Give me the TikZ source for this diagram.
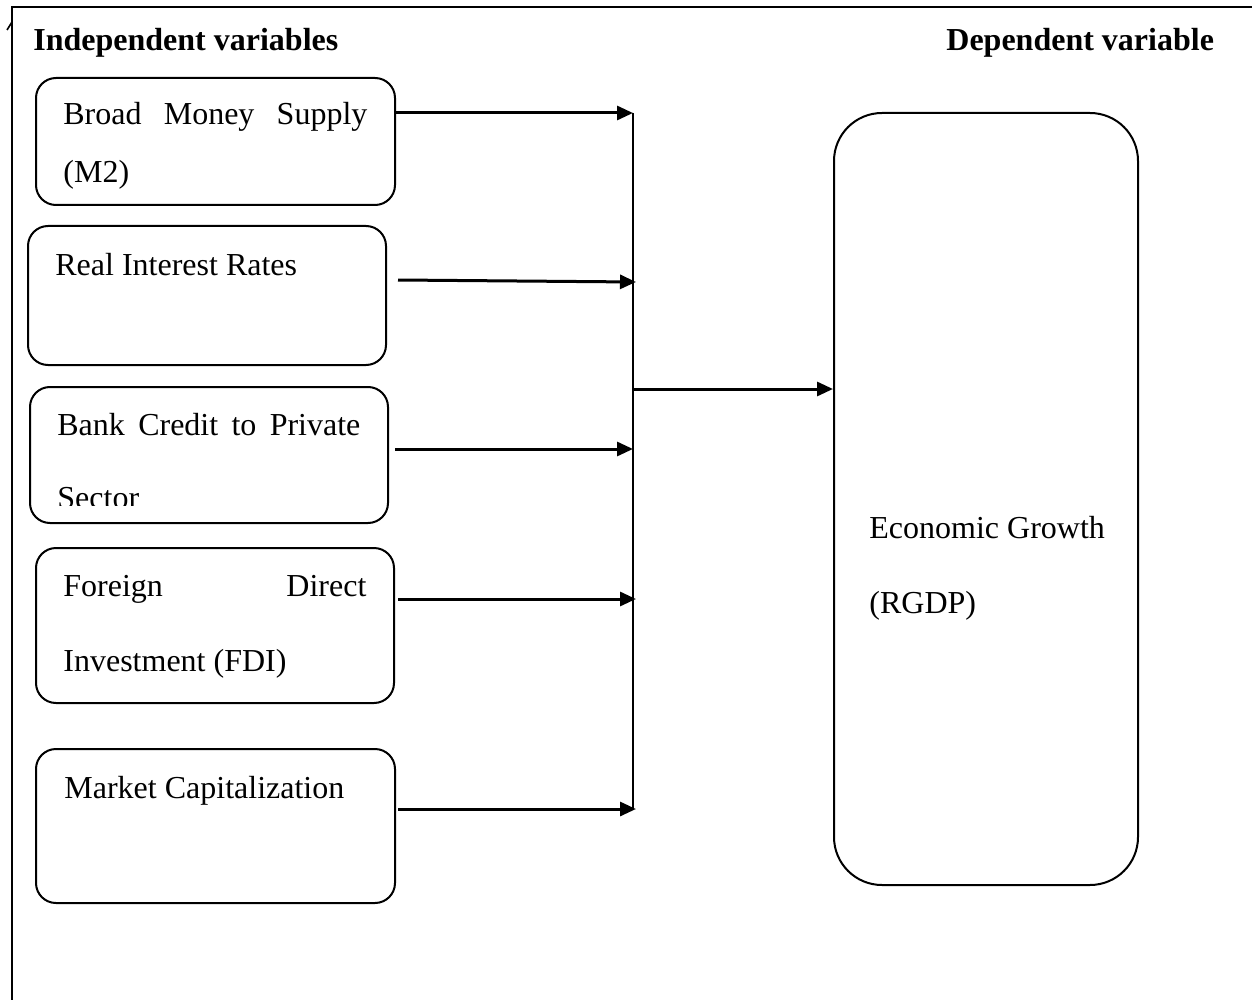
\documentclass[tikz,border=0pt]{standalone}
\usepackage{fontspec}
\setmainfont{Liberation Serif}
\usetikzlibrary{arrows.meta}
\tikzset{
  varbox/.style={draw, line width=1pt, rounded corners=10pt, inner sep=0pt},
  bigbox/.style={draw, line width=1pt, rounded corners=24pt, inner sep=0pt},
  txt/.style={anchor=base west, inner sep=0pt, font=\fontsize{16}{19}\selectfont},
  head/.style={anchor=base west, inner sep=0pt, font=\fontsize{16}{19}\selectfont\bfseries},
  feed/.style={line width=1.5pt, -{Triangle[length=8pt,width=7pt]}},
  bus/.style={line width=0.8pt},
  frame/.style={line width=0.8pt}
}
\begin{document}
\begin{tikzpicture}[x=0.5pt,y=-0.5pt]
\useasboundingbox (0,0) rectangle (1252,1000);

% outer frame (top and left only)
\coordinate (fl) at (12,1000);
\coordinate (fc) at (12,7);
\coordinate (fr) at (1252,7);
\draw[frame] (fl) -- (fc) -- (fr);
\coordinate (ta) at (7,30);
\coordinate (tb) at (12,22);
\draw[line width=0.8pt] (ta) -- (tb);

% headings
\node[head] (h1) at (33,51) {Independent variables};
\node[head] (h2) at (946,51) {Dependent variable};

% variable boxes
\node[varbox, minimum width=179.5pt, minimum height=63.5pt] (b1) at (215.5,141.5) {};
\node[varbox, minimum width=179pt, minimum height=69.5pt] (b2) at (207,295.5) {};
\node[varbox, minimum width=179pt, minimum height=68pt] (b3) at (209,455) {};
\node[varbox, minimum width=179pt, minimum height=77.5pt] (b4) at (215,625.5) {};
\node[varbox, minimum width=179.5pt, minimum height=77pt] (b5) at (215.5,826) {};
\node[bigbox, minimum width=152pt, minimum height=386pt] (g) at (986,499) {};

% texts
\node[txt] (t1a) at (63,125) {\makebox[152pt][s]{Broad Money Supply}};
\node[txt] (t1b) at (63,183) {(M2)};
\node[txt] (t2) at (55,276) {Real Interest Rates};
\node[txt] (t3a) at (57,435) {\makebox[151.5pt][s]{Bank Credit to Private}};
\begin{scope}
  \clip (40,470) rectangle (200,505);
  \node[txt] (t3b) at (57,508) {Sector};
\end{scope}
\node[txt] (t4a) at (63,596) {\makebox[151.5pt][s]{Foreign Direct}};
\node[txt] (t4b) at (63,671) {Investment (FDI)};
\node[txt] (t5) at (64,798) {Market Capitalization};
\node[txt] (t6a) at (869,538) {Economic Growth};
\node[txt] (t6b) at (869,613) {(RGDP)};

% bus junctions
\coordinate (j1) at (633,113);
\coordinate (j2) at (636,282);
\coordinate (j3) at (633,449);
\coordinate (j4) at (636,599);
\coordinate (j5) at (636,809);
\coordinate (j6) at (633,389);
\coordinate (jb) at (633,810);

% starts
\coordinate (s2) at (398,280);
\coordinate (s3) at (395,449);
\coordinate (s4) at (398,599);
\coordinate (s5) at (398,809);

\draw[bus] (j1) -- (jb);
\draw[feed] (b1.east |- j1) -- (j1);
\draw[feed] (s2) -- (j2);
\draw[feed] (s3) -- (j3);
\draw[feed] (s4) -- (j4);
\draw[feed] (s5) -- (j5);
\draw[feed] (j6) -- (j6 -| g.west);
\end{tikzpicture}
\end{document}
